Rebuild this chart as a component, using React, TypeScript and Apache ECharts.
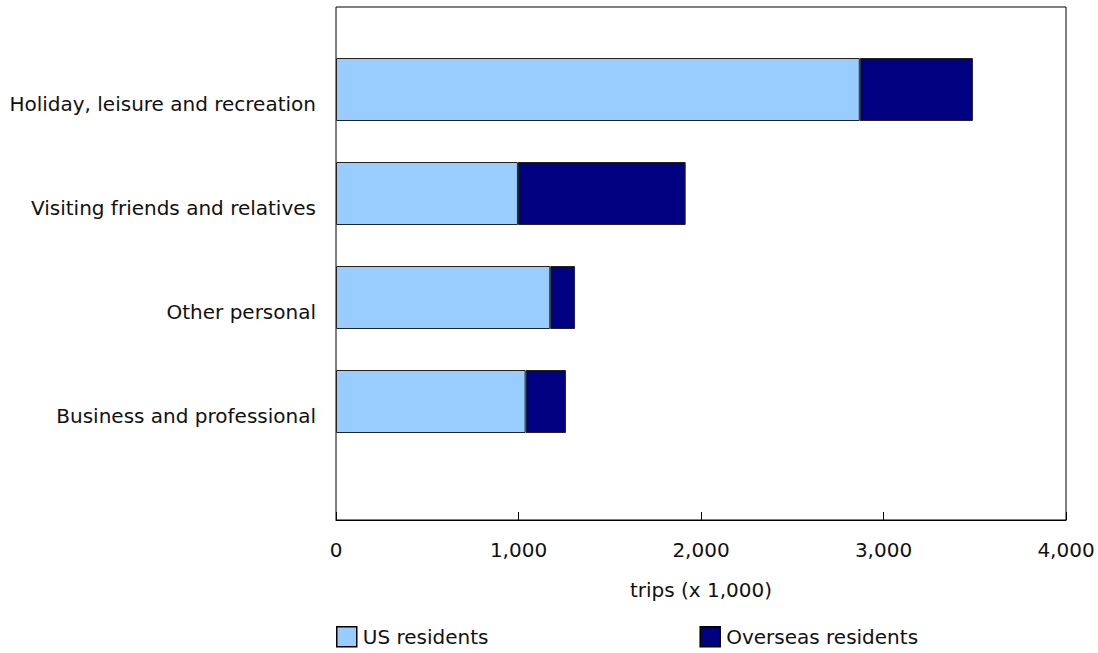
import React, { useEffect, useRef } from "react";
import * as echarts from "echarts";

const categories = [
  "Holiday, leisure and recreation",
  "Visiting friends and relatives",
  "Other personal",
  "Business and professional",
];
const usResidents = [2870, 997, 1174, 1039];
const overseasResidents = [620, 919, 136, 221];
const xTicks = [0, 1000, 2000, 3000, 4000];

const FONT = "DejaVu Sans";
const FS = 20;

export default function App() {
  const ref = useRef<HTMLDivElement>(null);
  useEffect(() => {
    if (!ref.current) return;
    const chart = echarts.init(ref.current, null, { renderer: "svg" });
    const fmt = (v: number) => v.toLocaleString("en-US");
    chart.setOption({
      animation: false,
      textStyle: { fontFamily: FONT },
      grid: [
        { left: 336, right: 32, top: 7, height: 513, show: true, borderColor: "#000", borderWidth: 1, backgroundColor: "transparent" },
        { left: 336, right: 32, top: 37.5, height: 416 },
      ],
      xAxis: [
        {
          type: "value",
          gridIndex: 0,
          min: xTicks[0],
          max: xTicks[xTicks.length - 1],
          interval: 1000,
          splitLine: { show: false },
          axisLine: { show: true, lineStyle: { color: "#000", width: 1 } },
          axisTick: { show: true, inside: true, length: 8, lineStyle: { color: "#000" } },
          axisLabel: { formatter: fmt, color: "#111", fontSize: FS, fontFamily: FONT, margin: 20 },
          name: "trips (x 1,000)",
          nameLocation: "middle",
          nameGap: 60,
          nameTextStyle: { color: "#111", fontSize: FS, fontFamily: FONT },
        },
        {
          type: "value",
          gridIndex: 1,
          min: 0,
          max: 4000,
          show: false,
        },
      ],
      yAxis: [
        { type: "value", gridIndex: 0, show: false },
        {
          type: "category",
          gridIndex: 1,
          inverse: true,
          data: categories,
          axisLine: { show: false },
          axisTick: { show: false },
          axisLabel: { color: "#111", fontSize: FS, fontFamily: FONT, margin: 20, verticalAlign: "top", lineHeight: 28 },
        },
      ],
      legend: {
        left: 336,
        top: 626,
        padding: 0,
        itemWidth: 20,
        itemHeight: 20,
        itemGap: 211,
        icon: "rect",
        textStyle: { color: "#111", fontSize: FS, fontFamily: FONT, padding: [0, 0, 0, 1] },
        data: [
          { name: "US residents", itemStyle: { borderColor: "#000", borderWidth: 1.5 } },
          { name: "Overseas residents", itemStyle: { borderColor: "#000", borderWidth: 1.5 } },
        ],
      },
      series: [
        {
          name: "US residents",
          type: "bar",
          xAxisIndex: 1,
          yAxisIndex: 1,
          stack: "total",
          barWidth: 63,
          data: usResidents,
          itemStyle: { color: "#99CCFF", borderColor: "#222", borderWidth: 1 },
        },
        {
          name: "Overseas residents",
          type: "bar",
          xAxisIndex: 1,
          yAxisIndex: 1,
          stack: "total",
          barWidth: 63,
          data: overseasResidents,
          itemStyle: { color: "#000080", borderColor: "#222", borderWidth: 1 },
        },
      ],
    });
    return () => chart.dispose();
  }, []);
  return <div ref={ref} style={{ width: 1098, height: 653, position: "absolute", left: 0, top: 0 }} />;
}
